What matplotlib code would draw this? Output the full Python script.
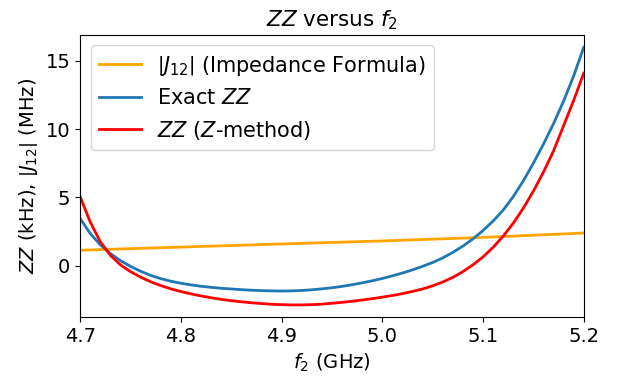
import numpy as np
import matplotlib
matplotlib.use("Agg")
import matplotlib.pyplot as plt

# frequency grid of qubit 2 (GHz)
f2 = np.round(np.arange(4.70, 5.2001, 0.01), 2)

# exact ZZ (kHz)
zz_exact = [3.45, 2.35, 1.52, 0.88, 0.36, -0.06, -0.42, -0.72, -0.96, -1.15,
            -1.30, -1.42, -1.52, -1.60, -1.67, -1.72, -1.77, -1.81, -1.84, -1.86,
            -1.87, -1.86, -1.83, -1.78, -1.71, -1.63, -1.53, -1.41, -1.27, -1.12,
            -0.95, -0.76, -0.55, -0.32, -0.06, 0.22, 0.56, 0.96, 1.42, 1.95,
            2.56, 3.26, 4.06, 5.05, 6.20, 7.50, 8.90, 10.40, 12.05, 13.90,
            16.00]

# ZZ from the Z-method (kHz)
zz_zmethod = [5.05, 3.20, 1.75, 0.75, 0.05, -0.45, -0.85, -1.19, -1.47, -1.71,
              -1.91, -2.08, -2.23, -2.36, -2.48, -2.58, -2.66, -2.73, -2.79, -2.84,
              -2.87, -2.89, -2.89, -2.87, -2.83, -2.77, -2.70, -2.62, -2.53, -2.43,
              -2.32, -2.20, -2.06, -1.90, -1.72, -1.49, -1.21, -0.87, -0.45, 0.05,
              0.63, 1.33, 2.15, 3.10, 4.20, 5.45, 6.85, 8.40, 10.25, 12.10,
              14.10]

# |J12| from impedance formula (MHz)
f2_j = [4.70, 4.80, 4.90, 5.00, 5.10, 5.20]
j12 = [1.12, 1.35, 1.58, 1.80, 2.06, 2.38]

fig = plt.figure(figsize=(6.21, 3.76), dpi=100)
ax = fig.add_axes([0.129, 0.156, 0.811, 0.751])

ax.plot(f2_j, j12, color="orange", lw=2,
        label=r"$\left|J_{12}\right|$ (Impedance Formula)")
ax.plot(f2, zz_exact, color="tab:blue", lw=2, label=r"Exact $ZZ$")
ax.plot(f2, zz_zmethod, color="red", lw=2, label=r"$ZZ$ ($Z$-method)")

ax.set_xlim(4.7, 5.2)
ax.set_ylim(-3.8, 16.9)
ax.set_xticks([4.7, 4.8, 4.9, 5.0, 5.1, 5.2])
ax.set_yticks([0, 5, 10, 15])
ax.tick_params(labelsize=14)

ax.set_xlabel(r"$f_2$ (GHz)", fontsize=14)
ax.set_ylabel(r"$ZZ$ (kHz), $\left|J_{12}\right|$ (MHz)", fontsize=14)
ax.set_title(r"$ZZ$ versus $f_2$", fontsize=15.5)
ax.legend(loc="upper left", fontsize=15)

fig.savefig("out.png", dpi=100)
